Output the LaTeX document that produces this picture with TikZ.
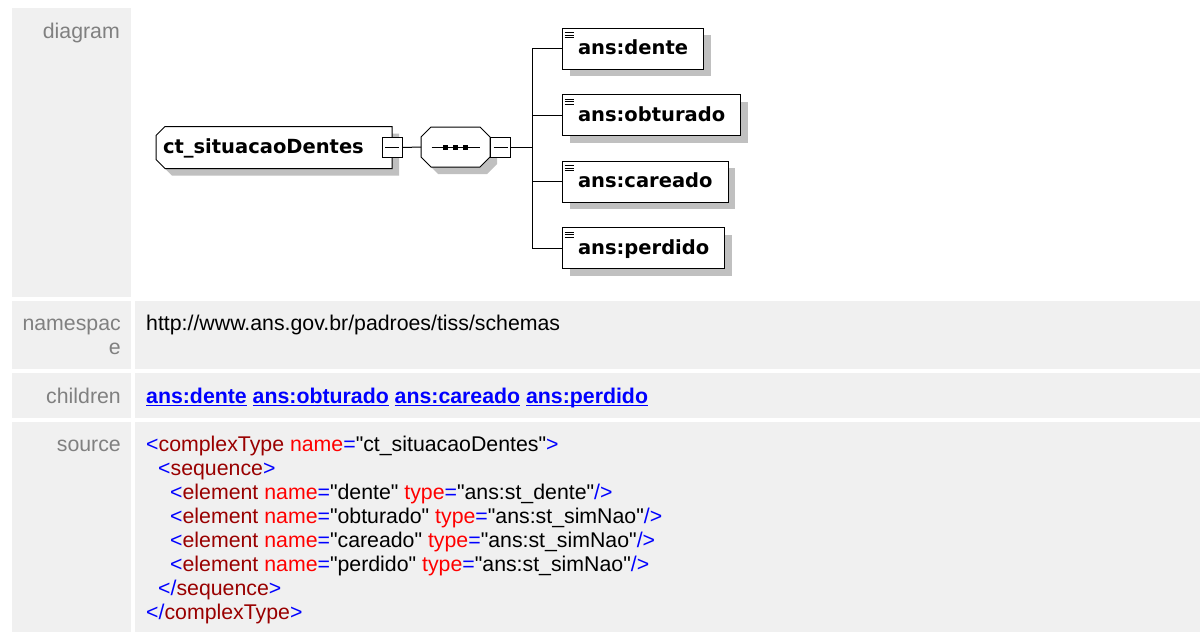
\documentclass[tikz,border=0pt]{standalone}
\usepackage{fontspec}
\setmainfont{Liberation Sans}[Ligatures=TeXOff]
\newfontfamily\diagfont{DejaVu Sans}
\usetikzlibrary{positioning, shadows, calc, backgrounds}

\definecolor{cellgray}{RGB}{240,240,240}
\definecolor{labelgray}{RGB}{128,128,128}
\definecolor{tagblue}{RGB}{0,0,255}
\definecolor{elemred}{RGB}{153,0,0}
\definecolor{attred}{RGB}{255,0,0}
\definecolor{shadowgray}{RGB}{192,192,192}

\newcommand{\xmlmark}[1]{\textcolor{tagblue}{#1}}
\newcommand{\xmlelem}[1]{\textcolor{elemred}{#1}}
\newcommand{\xmlattr}[1]{\textcolor{attred}{#1}}
\newcommand{\linkul}[1]{\setbox0\hbox{#1}\rlap{\rule[-3pt]{\wd0}{1.4pt}}\box0\relax}
% outline of a box with cut corners: node, west cut, east cut, offset
\newcommand{\octpath}[4]{($(#1.north west)+(#2+#4,#4)$) -- ($(#1.north east)+(-#3+#4,#4)$)
    -- ($(#1.north east)+(#4,#3+#4)$) -- ($(#1.south east)+(#4,-#3+#4)$)
    -- ($(#1.south east)+(-#3+#4,#4)$) -- ($(#1.south west)+(#2+#4,#4)$)
    -- ($(#1.south west)+(#4,-#2+#4)$) -- ($(#1.north west)+(#4,#2+#4)$) -- cycle}

\begin{document}
\begin{tikzpicture}[x=1pt, y=-1pt,
    tablecell/.style={fill=cellgray},
    rowlabel/.style={anchor=base east, text=labelgray, inner sep=0pt, font=\fontsize{21.3}{24}\selectfont},
    rowtext/.style={anchor=base west, inner sep=0pt, font=\fontsize{21.3}{24}\selectfont},
    rowlink/.style={rowtext, text=tagblue, font=\bfseries\fontsize{21.3}{24}\selectfont},
    diagshadow/.style={drop shadow={shadow xshift=7pt, shadow yshift=-7pt, fill=shadowgray, opacity=1}},
    diagtext/.style={font=\diagfont\bfseries\fontsize{19.5}{22}\selectfont, text height=15.5pt, text depth=3.5pt},
    ctbox/.style={rectangle, diagtext, outer sep=0pt, minimum width=236pt, minimum height=42pt,
        inner xsep=0pt, text width=222pt, align=left, anchor=west},
    seqbox/.style={rectangle, outer sep=0pt, minimum width=69pt, minimum height=40pt, inner sep=0pt},
    boxline/.style={fill=white, draw, line width=1pt},
    seqdot/.style={rectangle, fill=black, minimum size=5pt, inner sep=0pt},
    minusbtn/.style={rectangle, draw, fill=white, line width=1pt, minimum size=20pt, inner sep=0pt,
        path picture={\draw[line width=1pt] ([xshift=3pt]path picture bounding box.west) -- ([xshift=-3pt]path picture bounding box.east);}},
    elembox/.style={rectangle, draw, fill=white, line width=1pt, diagshadow, diagtext, anchor=west,
        minimum height=41pt, inner xsep=15.5pt,
        path picture={\foreach \k in {1,2,3}
            \draw[line width=1pt] ([shift={(2pt,-2.2pt-2.4pt*\k)}]path picture bounding box.north west) -- ++(9.5pt,0);}},
    wire/.style={line width=1pt}
]
\useasboundingbox (0,0) rectangle (1200,632);

% Table cells
\fill[tablecell] (12,8) rectangle (131,297);
\foreach \ya/\yb in {301/369, 373/418, 422/632} {
    \fill[tablecell] (12,\ya) rectangle (131,\yb);
    \fill[tablecell] (135,\ya) rectangle (1200,\yb);
}

% Row labels
\node[rowlabel] (lbldiagram) at (120,38) {diagram};
\node[rowlabel] (lblnsa) at (121,330) {namespac};
\node[rowlabel] (lblnsb) at (121,354) {e};
\node[rowlabel] (lblchildren) at (121,403) {children};
\node[rowlabel] (lblsource) at (121,451) {source};

% Namespace and children
\node[rowtext] (nsurl) at (146,330) {http://www.ans.gov.br/padroes/tiss/schemas};
\node[rowlink] (childlinks) at (146,403) {\linkul{ans:dente} \linkul{ans:obturado} \linkul{ans:careado} \linkul{ans:perdido}};

% Source listing
\node[rowtext] (src1) at (146,451) {\xmlmark{<}\xmlelem{complexType} \xmlattr{name}\xmlmark{=}"ct\_situacaoDentes"\xmlmark{>}};
\node[rowtext] (src2) at (158,475) {\xmlmark{<}\xmlelem{sequence}\xmlmark{>}};
\node[rowtext] (src3) at (170,499) {\xmlmark{<}\xmlelem{element} \xmlattr{name}\xmlmark{=}"dente" \xmlattr{type}\xmlmark{=}"ans:st\_dente"\xmlmark{/>}};
\node[rowtext] (src4) at (170,523) {\xmlmark{<}\xmlelem{element} \xmlattr{name}\xmlmark{=}"obturado" \xmlattr{type}\xmlmark{=}"ans:st\_simNao"\xmlmark{/>}};
\node[rowtext] (src5) at (170,547) {\xmlmark{<}\xmlelem{element} \xmlattr{name}\xmlmark{=}"careado" \xmlattr{type}\xmlmark{=}"ans:st\_simNao"\xmlmark{/>}};
\node[rowtext] (src6) at (170,571) {\xmlmark{<}\xmlelem{element} \xmlattr{name}\xmlmark{=}"perdido" \xmlattr{type}\xmlmark{=}"ans:st\_simNao"\xmlmark{/>}};
\node[rowtext] (src7) at (158,595) {\xmlmark{</}\xmlelem{sequence}\xmlmark{>}};
\node[rowtext] (src8) at (146,619) {\xmlmark{</}\xmlelem{complexType}\xmlmark{>}};

% Complex type and sequence
\node[ctbox] (ct) at (156,147.5) {ct\_situacaoDentes};
\node[seqbox] (seq) at (455.5,147) {};
\begin{scope}[on background layer]
    \fill[white] (0,0) rectangle (1200,632);
    \fill[shadowgray] \octpath{ct}{9}{0}{7};
    \path[boxline] \octpath{ct}{9}{0}{0};
    \fill[shadowgray] \octpath{seq}{10}{10}{7};
    \path[boxline] \octpath{seq}{10}{10}{0};
\end{scope}
\node[minusbtn] (ctbtn) at (ct.east) {};
\node[minusbtn, anchor=west] (seqbtn) at (seq.east) {};
\draw[wire] (seq.center) ++(-24,0) -- ++(48,0);
\foreach \dx [count=\i] in {-10,0,10}
    \node[seqdot] (dot\i) at ($(seq.center)+(\dx,0)$) {};

% Child elements
\foreach \e [count=\i from 0] in {dente,obturado,careado,perdido}
    \node[elembox] (\e) at (562,{48.8+66.5*\i}) {ans:\e};

% Connectors
\coordinate (bus) at (532,147);
\draw[wire] (ctbtn.east) -- (seq.west);
\draw[wire] (seqbtn.east) -- (bus);
\draw[wire] (bus |- dente.west) -- (bus |- perdido.west);
\foreach \e in {dente,obturado,careado,perdido}
    \draw[wire] (bus |- \e.west) -- (\e.west);

\end{tikzpicture}
\end{document}
